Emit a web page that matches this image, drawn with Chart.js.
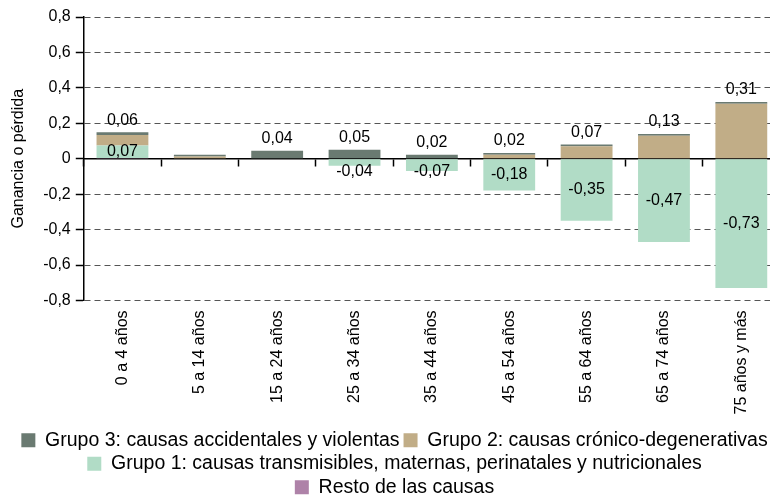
<!DOCTYPE html>
<html>
<head>
<meta charset="utf-8">
<script src="https://cdn.jsdelivr.net/npm/chart.js@4"></script>
<style>
  body { margin: 0; overflow: hidden; background: #fff; }
  #caja { width: 810px; height: 497px; }
</style>
</head>
<body>
<div id="caja"><canvas id="grafica"></canvas></div>
<script>
// Datos //
const categorias = ["0 a 4 años", "5 a 14 años", "15 a 24 años", "25 a 34 años", "35 a 44 años",
  "45 a 54 años", "55 a 64 años", "65 a 74 años", "75 años y más"];
const resto = [0.004, 0, 0, 0, 0, 0, 0, 0, 0];
const grupo1 = [0.07, 0, 0, -0.04, -0.07, -0.18, -0.35, -0.47, -0.73];
const grupo2 = [0.06, 0.012, 0, 0, 0, 0.022, 0.07, 0.13, 0.31];
const grupo3 = [0.015, 0.01, 0.045, 0.05, 0.022, 0.01, 0.01, 0.01, 0.01];
const etiquetasSuperiores = [0.06, null, 0.04, 0.05, 0.02, 0.02, 0.07, 0.13, 0.31];
const marcasY = [-0.8, -0.6, -0.4, -0.2, 0, 0.2, 0.4, 0.6, 0.8];

const fuente = "'Liberation Sans', Arial, sans-serif";

function formato(v, dec) {
  if (Math.abs(v) < 1e-9) return "0";
  return v.toFixed(dec).replace(".", ",");
}

// Etiquetas de datos dibujadas sobre las barras //
const etiquetas = {
  id: "etiquetas",
  afterDatasetsDraw(chart) {
    const { ctx, scales: { x, y } } = chart;
    ctx.save();
    ctx.font = "16px " + fuente;
    ctx.fillStyle = "#000";
    ctx.textAlign = "center";
    ctx.textBaseline = "middle";
    const cero = y.getPixelForValue(0);
    categorias.forEach((c, i) => {
      const cx = x.getPixelForValue(i);
      const tope = [resto[i], grupo1[i], grupo2[i], grupo3[i]]
        .filter((v) => v > 0).reduce((a, b) => a + b, 0);
      if (etiquetasSuperiores[i] !== null) {
        ctx.fillText(formato(etiquetasSuperiores[i], 2), cx, y.getPixelForValue(tope) - 12);
      }
      if (grupo1[i] > 0) {
        ctx.fillText(formato(grupo1[i], 2), cx, y.getPixelForValue(resto[i] + grupo1[i] / 2));
      } else if (grupo1[i] < 0) {
        const cy = Math.max(y.getPixelForValue(grupo1[i] / 2), cero + 13);
        ctx.fillText(formato(grupo1[i], 2), cx, cy);
      }
    });
    ctx.restore();
  }
};

const ctx = document.getElementById("grafica").getContext("2d");

new Chart(ctx, {
  type: "bar",
  data: {
    labels: categorias,
    datasets: [
      { label: "Resto de las causas", data: resto, backgroundColor: "#ae82a8" },
      { label: "Grupo 1: causas transmisibles, maternas, perinatales y nutricionales", data: grupo1, backgroundColor: "#b1dcc6" },
      { label: "Grupo 2: causas crónico-degenerativas", data: grupo2, backgroundColor: "#c1ad87" },
      { label: "Grupo 3: causas accidentales y violentas", data: grupo3, backgroundColor: "#6a7a71" }
    ]
  },
  options: {
    responsive: true,
    maintainAspectRatio: false,
    animation: false,
    categoryPercentage: 1,
    barPercentage: 0.67,
    layout: { padding: { top: 17, right: 30, left: 9, bottom: -10 } },
    plugins: {
      tooltip: { enabled: false },
      legend: {
        position: "bottom",
        labels: {
          sort: (a, b) => b.datasetIndex - a.datasetIndex,
          boxWidth: 14,
          boxHeight: 14,
          padding: 4,
          color: "#000",
          font: { family: fuente, size: 19.5, lineHeight: 1.077 }
        }
      }
    },
    scales: {
      x: {
        stacked: true,
        grid: { display: false },
        border: { display: false },
        afterFit: (eje) => { eje.height += 10; },
        ticks: {
          color: "#000",
          font: { family: fuente, size: 16 },
          minRotation: 90,
          maxRotation: 90,
          padding: 2
        }
      },
      xCero: {
        type: "category",
        labels: categorias,
        position: { y: 0 },
        offset: true,
        z: 1,
        grid: { offset: true, drawOnChartArea: false, tickLength: 7, tickColor: "#000", tickWidth: 1.5 },
        border: { display: true, color: "#000", width: 1.5 },
        ticks: { display: false }
      },
      y: {
        stacked: true,
        min: -0.8,
        max: 0.8,
        afterBuildTicks: (eje) => { eje.ticks = marcasY.map((v) => ({ value: v })); },
        ticks: {
          color: "#000",
          font: { family: fuente, size: 16 },
          padding: 5,
          callback: (v) => formato(v, 1)
        },
        grid: { color: "#555", lineWidth: 1, tickLength: 8, tickColor: "#000", tickWidth: 1.5, tickBorderDash: [] },
        border: { display: true, color: "#000", width: 1.5, dash: [6, 4] },
        title: {
          display: true,
          text: "Ganancia o pérdida",
          color: "#000",
          font: { family: fuente, size: 16 },
          padding: { top: 0, bottom: 10 }
        }
      }
    }
  },
  plugins: [etiquetas]
});
</script>
</body>
</html>
